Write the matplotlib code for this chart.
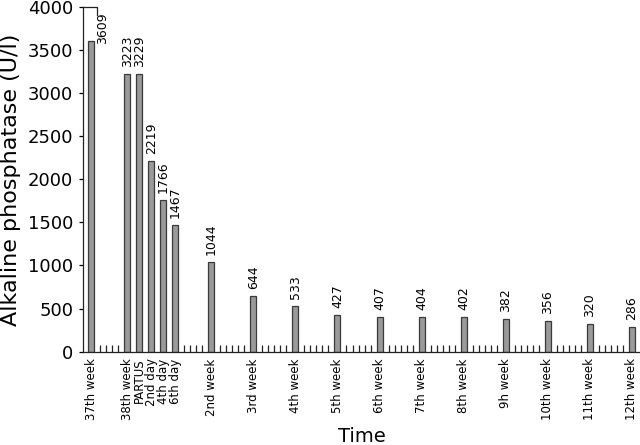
import numpy as np
import matplotlib
matplotlib.use("Agg")
import matplotlib.pyplot as plt

# sampling day (relative to start of 37th week) and measured values
day = [0, 6, 8, 10, 12, 14, 20, 27, 34, 41, 48, 55, 62, 69, 76, 83, 90]
labels = ["37th week", "38th week", "PARTUS", "2nd day", "4th day", "6th day",
          "2nd week", "3rd week", "4th week", "5th week", "6th week", "7th week",
          "8th week", "9h week", "10th week", "11th week", "12th week"]
alp = [3609, 3223, 3229, 2219, 1766, 1467, 1044, 644, 533, 427, 407, 404,
       402, 382, 356, 320, 286]

yticks = [0, 500, 1000, 1500, 2000, 2500, 3000, 3500, 4000]

# small day marks in the empty stretches between samples
half = np.arange(day[0] + 0.5, day[-1], 1.0)
day_marks = [h for h in half if min(abs(h - d) for d in day) >= 1.5]

fig = plt.figure(figsize=(6.4, 4.45), dpi=100)
ax = fig.add_axes([0.1297, 0.21, 0.8703, 0.7736])

ax.bar(day, alp, width=1.0, color="#9a9a9a", edgecolor="#3a3a3a", linewidth=0.9)

for x, v in zip(day, alp):
    if v > 3500:
        # too close to the top, put it beside the bar
        ax.annotate(str(v), (x, v), xytext=(8, -2), textcoords="offset points",
                    rotation=90, ha="center", va="bottom", fontsize=9)
    else:
        ax.annotate(str(v), (x, v), xytext=(0, 5), textcoords="offset points",
                    rotation=90, ha="center", va="bottom", fontsize=9)

ax.set_xlim(-1.4, 91.4)
ax.set_ylim(0, 4000)
ax.set_yticks(yticks)
ax.set_xticks(day)
ax.set_xticklabels(labels, rotation=90, fontsize=8.5)
ax.set_xticks(day_marks, minor=True)
ax.tick_params(axis="x", which="major", length=0, pad=5)
ax.tick_params(axis="x", which="minor", direction="in", length=5, width=0.9, color="#222222")
ax.tick_params(axis="y", length=3, width=0.9, labelsize=13, pad=4)

for s in ["top", "right"]:
    ax.spines[s].set_visible(False)
for s in ["left", "bottom"]:
    ax.spines[s].set_linewidth(0.9)
    ax.spines[s].set_color("#222222")

# little bracket at the top of the y axis
ax.plot([-1.4, 0.9, 0.9], [4000, 4000, 3905], color="#222222", lw=0.9, clip_on=False)

ax.set_ylabel("Alkaline phosphatase (U/l)", fontsize=16)
ax.yaxis.set_label_coords(-0.111, 0.5)
ax.set_xlabel("Time", fontsize=14)
ax.xaxis.set_label_coords(0.5, -0.218)

fig.savefig("out.png", dpi=100)
